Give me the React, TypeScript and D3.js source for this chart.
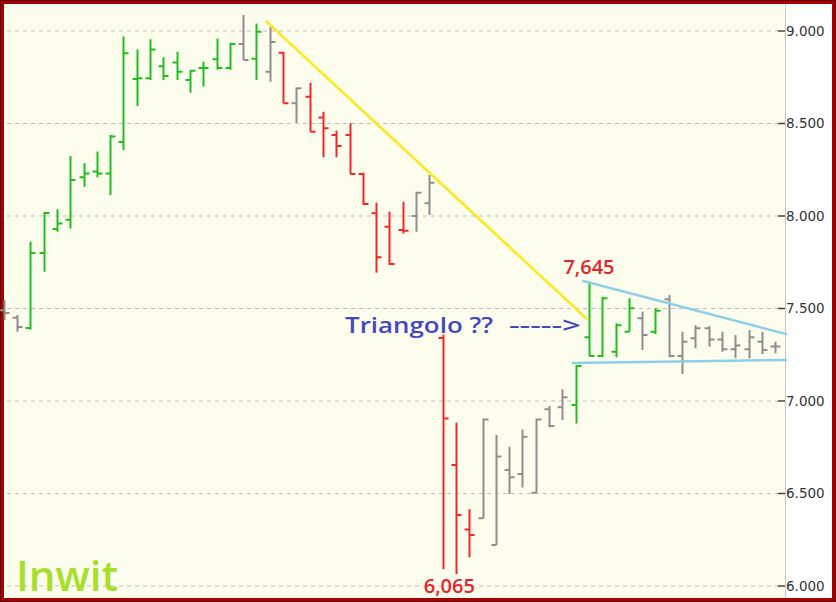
import * as React from "react";
import * as d3 from "d3";

// OHLC per session (index = session number)
const opens = [
  7.49, 7.45, 7.395, 7.8, 7.93, 7.98, 8.21, 8.24, 8.23, 8.4, 8.74, 8.745, 8.81, 8.83, 8.735,
  8.8, 8.847, 8.8, 8.93, 8.85, 8.78, 8.883, 8.61, 8.645, 8.533, 8.438, 8.438, 8.227, 8.015,
  7.942, 7.924, 8.0, 8.069, 7.34, 6.654, 6.306, 6.366, 6.222, 6.627, 6.605, 6.504, 6.955,
  6.966, 6.978, 7.344, 7.243, 7.266, 7.375, 7.447, 7.375, 7.55, 7.243, 7.339, 7.393, 7.333,
  7.28, 7.28, 7.32, 7.294
];
const highs = [
  7.546, 7.465, 7.861, 8.023, 8.036, 8.324, 8.285, 8.348, 8.438, 8.97, 8.9, 8.955, 8.858,
  8.888, 8.789, 8.834, 8.96, 8.937, 9.086, 9.04, 9.023, 8.888, 8.696, 8.72, 8.564, 8.461,
  8.501, 8.234, 8.072, 8.023, 8.077, 8.131, 8.222, 7.36, 6.883, 6.415, 6.906, 6.816, 6.753,
  6.846, 6.906, 6.973, 7.063, 7.195, 7.645, 7.564, 7.42, 7.555, 7.483, 7.501, 7.573, 7.375,
  7.41, 7.405, 7.375, 7.357, 7.384, 7.375, 7.32
];
const lows = [
  7.437, 7.374, 7.385, 7.699, 7.915, 7.933, 8.158, 8.21, 8.114, 8.357, 8.595, 8.735, 8.735,
  8.735, 8.666, 8.7, 8.79, 8.79, 8.843, 8.735, 8.726, 8.609, 8.504, 8.456, 8.317, 8.317,
  8.227, 8.059, 7.693, 7.735, 7.906, 7.915, 8.005, 6.09, 6.065, 6.155, 6.366, 6.222, 6.497,
  6.533, 6.504, 6.858, 6.897, 6.879, 7.24, 7.236, 7.236, 7.375, 7.276, 7.362, 7.236, 7.146,
  7.285, 7.293, 7.266, 7.231, 7.231, 7.254, 7.258
];
const closes = [
  7.476, 7.4, 7.8, 8.016, 7.96, 8.195, 8.23, 8.23, 8.43, 8.88, 8.745, 8.9, 8.757, 8.78,
  8.785, 8.8, 8.8, 8.93, 8.843, 8.996, 8.94, 8.61, 8.69, 8.456, 8.474, 8.378, 8.227, 8.065,
  7.777, 7.74, 7.92, 8.126, 8.18, 6.906, 6.384, 6.276, 6.9, 6.7, 6.588, 6.807, 6.9, 6.865,
  7.02, 7.189, 7.243, 7.555, 7.41, 7.501, 7.357, 7.488, 7.243, 7.32, 7.393, 7.333, 7.28,
  7.3, 7.344, 7.276, 7.294
];
// bar state as painted by the platform: g = rialzo, r = ribasso, n = neutro
const states = [
  "n", "n",
  "g", "g", "g", "g", "g", "g", "g", "g", "g", "g", "g", "g", "g", "g", "g", "g",
  "n", "g", "n", "r", "n",
  "r", "r", "r", "r", "r", "r", "r", "r",
  "n", "n", "r", "r", "r",
  "n", "n", "n", "n", "n", "n", "n",
  "g", "g", "g", "g", "g", "n", "g",
  "n", "n", "n", "n", "n", "n", "n", "n", "n"
];

const yTicks = [6, 6.5, 7, 7.5, 8, 8.5, 9];

// trendlines as [session index, price]
const downTrend: [number, number][] = [[19.7, 9.055], [43.9, 7.44]];
const triangleTop: [number, number][] = [[43.5, 7.65], [58.9, 7.36]];
const triangleBottom: [number, number][] = [[42.7, 7.205], [58.9, 7.222]];

const stateColor: Record<string, string> = { g: "#1fbf1f", r: "#f52626", n: "#8e8e8e" };

export default function App() {
  const W = 836;
  const H = 602;
  const plotRight = 785;

  const x = d3.scaleLinear().domain([0, opens.length - 1]).range([3.7, 775.2]);
  const y = d3.scaleLinear().domain([6, 9]).range([586, 31]);
  const fmt = d3.format(".3f");
  const line = d3
    .line<[number, number]>()
    .x(d => x(d[0]))
    .y(d => y(d[1]));

  // the low of the crash and the high of the rebound that follows it
  const loIdx = d3.minIndex(lows);
  const hiIdx = loIdx + d3.maxIndex(highs.slice(loIdx));
  const tick = 5;

  return (
    <svg width={W} height={H} style={{ display: "block" }}>
      <style>{"body{margin:0}"}</style>
      <rect width={W} height={H} fill="#5a0000" />
      <rect x={1} y={1} width={W - 2} height={H - 2} fill="#a80000" />
      <rect x={4} y={4} width={W - 8} height={H - 8} fill="#ffffff" />
      <rect x={4} y={4} width={plotRight - 4} height={H - 8} fill="#fdfdee" />
      <line x1={plotRight + 0.5} x2={plotRight + 0.5} y1={4} y2={H - 4} stroke="#c8c8c8" />

      <g className="grid">
        {yTicks.map(t => (
          <line
            key={t}
            x1={7}
            x2={778}
            y1={y(t)}
            y2={y(t)}
            stroke="#bdbdbd"
            strokeDasharray="4,4"
          />
        ))}
      </g>

      <g className="axis" fontFamily="DejaVu Sans, Verdana, sans-serif" fontSize={13.5} fill="#333">
        {yTicks.map(t => (
          <g key={t}>
            <line x1={778} x2={plotRight} y1={y(t)} y2={y(t)} stroke="#444" strokeWidth={1.5} />
            <text x={plotRight + 1} y={y(t)} dy="0.36em">
              {fmt(t)}
            </text>
          </g>
        ))}
      </g>

      <g className="bars" strokeWidth={2} fill="none">
        {opens.map((o, i) => {
          const cx = Math.round(x(i)) + 0.5;
          return (
            <path
              key={i}
              stroke={stateColor[states[i]]}
              d={`M${cx},${y(highs[i])}V${y(lows[i])}M${cx - tick},${y(o)}H${cx}M${cx},${y(
                closes[i]
              )}H${cx + tick}`}
            />
          );
        })}
      </g>

      <path d={line(downTrend) as string} stroke="#ffe81a" strokeWidth={2.5} fill="none" />
      <path d={line(triangleTop) as string} stroke="#8ccfea" strokeWidth={2.5} fill="none" />
      <path d={line(triangleBottom) as string} stroke="#8ccfea" strokeWidth={2.5} fill="none" />

      <g fontFamily="Open Sans, sans-serif" fontWeight={600}>
        <text x={x(hiIdx)} y={y(highs[hiIdx]) - 8} fontSize={20} fill="#e8232d" textAnchor="middle">
          {fmt(highs[hiIdx]).replace(".", ",")}
        </text>
        <text
          x={x(loIdx - 0.5)}
          y={y(lows[loIdx]) + 19}
          fontSize={20}
          fill="#e8232d"
          textAnchor="middle"
        >
          {fmt(lows[loIdx]).replace(".", ",")}
        </text>
        <text
          x={345}
          y={y(7.365)}
          fontSize={22}
          fill="#4646c4"
          textLength={148}
          lengthAdjust="spacingAndGlyphs"
        >
          Triangolo ??
        </text>
        <text
          x={x(hiIdx) - 8}
          y={y(7.365)}
          fontSize={22}
          fill="#4646c4"
          textAnchor="end"
          textLength={72}
          lengthAdjust="spacingAndGlyphs"
        >
          {"----->"}
        </text>
        <text x={16} y={591} fontSize={42} fill="#a6e02a">
          Inwit
        </text>
      </g>
    </svg>
  );
}
